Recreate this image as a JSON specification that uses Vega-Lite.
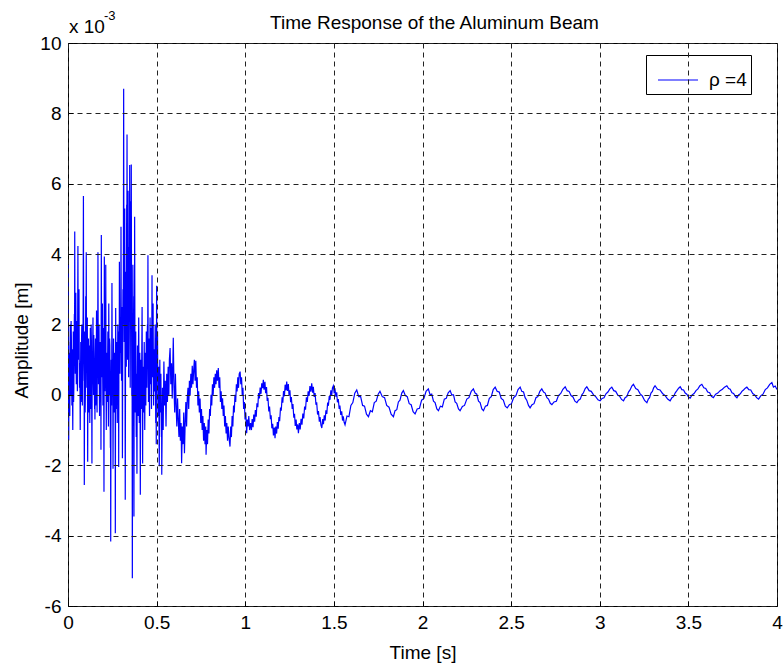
{
"$schema": "https://vega.github.io/schema/vega-lite/v6.json",
"width": 709,
"height": 563,
"autosize": "none",
"padding": {"left": 68, "top": 43, "right": 6, "bottom": 62},
"background": "white",
"config": {"view": {"stroke": "black", "strokeWidth": 1}, "font": "Liberation Sans"},
"title": {"text": "Time Response of the Aluminum Beam", "fontSize": 19, "fontWeight": "normal", "font": "Liberation Sans", "color": "black", "anchor": "middle", "frame": "group", "dx": 12, "baseline": "alphabetic", "offset": -38},
"layer": [
{
"data": {"values": [
{"t":0.000,"a":3.7},{"t":0.001,"a":0.8},{"t":0.002,"a":-0.2},{"t":0.003,"a":1.5},{"t":0.004,"a":-1.3},{"t":0.0055,"a":0.5},{"t":0.007,"a":1.2},{"t":0.0085,"a":-0.2},{"t":0.010,"a":-0.6},{"t":0.0115,"a":1.0},{"t":0.013,"a":2.0},{"t":0.0145,"a":0.0},{"t":0.016,"a":0.4},{"t":0.0175,"a":2.1},{"t":0.019,"a":1.6},{"t":0.0205,"a":0.5},{"t":0.022,"a":-0.3},{"t":0.0235,"a":1.3},{"t":0.025,"a":0.9},{"t":0.026,"a":-0.4},{"t":0.027,"a":-1.0},{"t":0.0285,"a":0.8},{"t":0.030,"a":1.8},{"t":0.0315,"a":-0.2},{"t":0.033,"a":0.2},{"t":0.0345,"a":1.4},{"t":0.036,"a":2.3},{"t":0.037,"a":1.0},{"t":0.038,"a":4.64},{"t":0.0395,"a":1.5},{"t":0.041,"a":0.6},{"t":0.0425,"a":1.6},{"t":0.044,"a":2.9},{"t":0.0455,"a":0.9},{"t":0.047,"a":0.3},{"t":0.0485,"a":1.7},{"t":0.050,"a":2.1},{"t":0.0515,"a":0.6},{"t":0.053,"a":0.1},{"t":0.0545,"a":2.0},{"t":0.056,"a":4.23},{"t":0.0575,"a":1.2},{"t":0.059,"a":1.0},{"t":0.0605,"a":2.2},{"t":0.062,"a":3.0},{"t":0.0635,"a":1.0},{"t":0.065,"a":0.2},{"t":0.067,"a":0.9},{"t":0.069,"a":-1.0},{"t":0.0705,"a":0.4},{"t":0.072,"a":1.5},{"t":0.0735,"a":-0.2},{"t":0.075,"a":0.5},{"t":0.0765,"a":1.6},{"t":0.078,"a":2.0},{"t":0.0795,"a":0.3},{"t":0.081,"a":-0.3},{"t":0.0825,"a":1.5},{"t":0.084,"a":1.2},{"t":0.0855,"a":2.5},{"t":0.087,"a":5.65},{"t":0.0885,"a":1.0},{"t":0.090,"a":0.4},{"t":0.091,"a":1.2},{"t":0.092,"a":-2.56},{"t":0.0935,"a":0.3},{"t":0.095,"a":1.8},{"t":0.0965,"a":-0.5},{"t":0.098,"a":0.0},{"t":0.099,"a":1.4},{"t":0.100,"a":2.8},{"t":0.1015,"a":0.8},{"t":0.103,"a":4.05},{"t":0.1045,"a":1.1},{"t":0.106,"a":0.2},{"t":0.1075,"a":1.4},{"t":0.109,"a":2.2},{"t":0.110,"a":0.4},{"t":0.111,"a":-1.9},{"t":0.1125,"a":0.9},{"t":0.114,"a":0.6},{"t":0.1155,"a":1.6},{"t":0.117,"a":-0.5},{"t":0.1185,"a":0.7},{"t":0.120,"a":1.4},{"t":0.1215,"a":0.2},{"t":0.123,"a":-0.8},{"t":0.1245,"a":0.9},{"t":0.126,"a":1.9},{"t":0.1275,"a":-0.4},{"t":0.129,"a":0.3},{"t":0.1305,"a":2.0},{"t":0.132,"a":1.5},{"t":0.1335,"a":0.2},{"t":0.135,"a":-1.95},{"t":0.1365,"a":0.9},{"t":0.138,"a":0.4},{"t":0.1395,"a":1.5},{"t":0.141,"a":2.2},{"t":0.1425,"a":0.5},{"t":0.144,"a":0.0},{"t":0.1455,"a":1.7},{"t":0.147,"a":1.1},{"t":0.1485,"a":0.2},{"t":0.150,"a":-0.4},{"t":0.151,"a":0.5},{"t":0.152,"a":-0.7},{"t":0.1535,"a":0.8},{"t":0.155,"a":1.6},{"t":0.1565,"a":-0.3},{"t":0.158,"a":0.2},{"t":0.1595,"a":1.0},{"t":0.161,"a":2.4},{"t":0.1625,"a":0.4},{"t":0.164,"a":-0.5},{"t":0.1655,"a":1.4},{"t":0.167,"a":1.0},{"t":0.168,"a":2.0},{"t":0.169,"a":4.05},{"t":0.1705,"a":1.2},{"t":0.172,"a":0.3},{"t":0.1735,"a":1.6},{"t":0.175,"a":2.0},{"t":0.1765,"a":0.5},{"t":0.178,"a":-0.6},{"t":0.1795,"a":0.6},{"t":0.181,"a":1.5},{"t":0.1825,"a":-0.2},{"t":0.184,"a":0.2},{"t":0.185,"a":0.9},{"t":0.186,"a":-1.56},{"t":0.187,"a":1.5},{"t":0.188,"a":4.54},{"t":0.1895,"a":1.0},{"t":0.191,"a":0.5},{"t":0.1925,"a":1.5},{"t":0.194,"a":2.6},{"t":0.1955,"a":0.7},{"t":0.197,"a":-0.3},{"t":0.1985,"a":1.2},{"t":0.200,"a":1.9},{"t":0.2015,"a":0.2},{"t":0.203,"a":-2.75},{"t":0.204,"a":0.8},{"t":0.205,"a":3.93},{"t":0.2065,"a":1.3},{"t":0.208,"a":0.1},{"t":0.2095,"a":1.4},{"t":0.211,"a":2.3},{"t":0.212,"a":1.1},{"t":0.213,"a":3.7},{"t":0.2145,"a":0.8},{"t":0.216,"a":-1.0},{"t":0.2175,"a":0.6},{"t":0.219,"a":1.2},{"t":0.2205,"a":0.4},{"t":0.222,"a":-0.2},{"t":0.2235,"a":1.0},{"t":0.225,"a":1.8},{"t":0.2265,"a":0.3},{"t":0.228,"a":-0.9},{"t":0.229,"a":0.7},{"t":0.230,"a":2.6},{"t":0.2315,"a":0.8},{"t":0.233,"a":0.0},{"t":0.2345,"a":1.6},{"t":0.236,"a":1.4},{"t":0.2375,"a":0.1},{"t":0.239,"a":-1.5},{"t":0.240,"a":0.3},{"t":0.241,"a":-4.17},{"t":0.2425,"a":-0.5},{"t":0.244,"a":1.0},{"t":0.245,"a":0.2},{"t":0.246,"a":-0.3},{"t":0.247,"a":1.2},{"t":0.248,"a":3.18},{"t":0.2495,"a":0.9},{"t":0.251,"a":0.2},{"t":0.2525,"a":1.0},{"t":0.254,"a":-2.1},{"t":0.2555,"a":0.2},{"t":0.257,"a":1.6},{"t":0.2585,"a":0.3},{"t":0.260,"a":-0.5},{"t":0.2615,"a":0.7},{"t":0.263,"a":1.2},{"t":0.264,"a":0.0},{"t":0.265,"a":0.1},{"t":0.266,"a":0.9},{"t":0.267,"a":-3.93},{"t":0.268,"a":-0.6},{"t":0.269,"a":2.47},{"t":0.2705,"a":0.8},{"t":0.272,"a":-0.4},{"t":0.2735,"a":1.1},{"t":0.275,"a":1.5},{"t":0.2765,"a":0.2},{"t":0.278,"a":-0.8},{"t":0.2795,"a":0.6},{"t":0.281,"a":2.0},{"t":0.2825,"a":1.0},{"t":0.284,"a":0.3},{"t":0.285,"a":1.2},{"t":0.286,"a":-2.05},{"t":0.287,"a":0.4},{"t":0.288,"a":1.8},{"t":0.289,"a":0.9},{"t":0.290,"a":3.78},{"t":0.2915,"a":1.4},{"t":0.293,"a":0.6},{"t":0.2945,"a":1.9},{"t":0.296,"a":2.2},{"t":0.2975,"a":1.2},{"t":0.299,"a":4.78},{"t":0.3005,"a":1.6},{"t":0.302,"a":0.4},{"t":0.3035,"a":1.8},{"t":0.305,"a":2.5},{"t":0.306,"a":0.5},{"t":0.307,"a":-1.8},{"t":0.3085,"a":1.0},{"t":0.310,"a":3.0},{"t":0.312,"a":2.0},{"t":0.314,"a":8.7},{"t":0.3155,"a":3.5},{"t":0.317,"a":1.5},{"t":0.3185,"a":3.0},{"t":0.320,"a":5.3},{"t":0.3215,"a":1.5},{"t":0.323,"a":-2.98},{"t":0.3245,"a":0.8},{"t":0.326,"a":3.5},{"t":0.3275,"a":2.2},{"t":0.329,"a":0.8},{"t":0.330,"a":3.0},{"t":0.331,"a":5.4},{"t":0.332,"a":3.8},{"t":0.333,"a":7.4},{"t":0.3345,"a":3.6},{"t":0.336,"a":1.0},{"t":0.3375,"a":3.2},{"t":0.339,"a":5.8},{"t":0.3405,"a":2.6},{"t":0.342,"a":0.5},{"t":0.3435,"a":2.8},{"t":0.345,"a":4.2},{"t":0.3465,"a":2.5},{"t":0.348,"a":6.53},{"t":0.3495,"a":2.8},{"t":0.351,"a":0.2},{"t":0.3525,"a":3.0},{"t":0.354,"a":5.5},{"t":0.3555,"a":3.2},{"t":0.357,"a":6.55},{"t":0.3585,"a":2.5},{"t":0.360,"a":0.0},{"t":0.3615,"a":1.8},{"t":0.363,"a":-5.21},{"t":0.3645,"a":-0.5},{"t":0.366,"a":3.7},{"t":0.3675,"a":1.8},{"t":0.369,"a":0.5},{"t":0.3705,"a":1.9},{"t":0.372,"a":-3.46},{"t":0.373,"a":-0.4},{"t":0.374,"a":2.8},{"t":0.375,"a":1.5},{"t":0.376,"a":5.06},{"t":0.3775,"a":1.6},{"t":0.379,"a":-0.5},{"t":0.3805,"a":0.9},{"t":0.382,"a":1.8},{"t":0.3835,"a":0.2},{"t":0.385,"a":-1.2},{"t":0.387,"a":0.6},{"t":0.389,"a":-2.24},{"t":0.3905,"a":0.2},{"t":0.392,"a":1.4},{"t":0.3935,"a":0.3},{"t":0.395,"a":-0.6},{"t":0.397,"a":1.0},{"t":0.399,"a":2.2},{"t":0.4005,"a":0.5},{"t":0.402,"a":-0.8},{"t":0.4035,"a":0.4},{"t":0.405,"a":1.2},{"t":0.4065,"a":0.0},{"t":0.408,"a":-2.84},{"t":0.4095,"a":-0.2},{"t":0.411,"a":1.0},{"t":0.4125,"a":0.0},{"t":0.414,"a":-0.4},{"t":0.416,"a":1.0},{"t":0.418,"a":2.5},{"t":0.4195,"a":0.3},{"t":0.421,"a":-1.95},{"t":0.4225,"a":0.2},{"t":0.424,"a":0.8},{"t":0.4255,"a":-0.2},{"t":0.427,"a":-0.5},{"t":0.4285,"a":0.6},{"t":0.430,"a":1.5},{"t":0.4315,"a":0.2},{"t":0.433,"a":-1.0},{"t":0.4345,"a":0.4},{"t":0.436,"a":1.2},{"t":0.4375,"a":-0.2},{"t":0.439,"a":-0.3},{"t":0.4405,"a":0.9},{"t":0.442,"a":1.8},{"t":0.4435,"a":0.6},{"t":0.445,"a":0.2},{"t":0.4465,"a":1.3},{"t":0.448,"a":2.0},{"t":0.4495,"a":1.1},{"t":0.451,"a":3.97},{"t":0.4525,"a":0.8},{"t":0.454,"a":-0.2},{"t":0.4555,"a":0.9},{"t":0.457,"a":1.6},{"t":0.4585,"a":0.2},{"t":0.460,"a":-0.6},{"t":0.4615,"a":1.0},{"t":0.463,"a":2.2},{"t":0.4645,"a":0.6},{"t":0.466,"a":0.3},{"t":0.4675,"a":1.2},{"t":0.469,"a":1.9},{"t":0.470,"a":0.6},{"t":0.471,"a":-0.4},{"t":0.4725,"a":1.3},{"t":0.474,"a":3.4},{"t":0.4755,"a":1.0},{"t":0.477,"a":0.5},{"t":0.4785,"a":1.5},{"t":0.480,"a":2.6},{"t":0.4815,"a":0.8},{"t":0.483,"a":-0.3},{"t":0.4845,"a":0.6},{"t":0.486,"a":1.3},{"t":0.4875,"a":0.2},{"t":0.489,"a":0.1},{"t":0.4905,"a":1.2},{"t":0.492,"a":2.0},{"t":0.4935,"a":0.4},{"t":0.495,"a":-0.8},{"t":0.4965,"a":0.3},{"t":0.498,"a":-1.4},{"t":0.499,"a":1.0},{"t":0.500,"a":3.1},{"t":0.501,"a":1.2},{"t":0.502,"a":0.4},{"t":0.5035,"a":1.0},{"t":0.505,"a":1.8},{"t":0.5065,"a":0.2},{"t":0.508,"a":-0.6},{"t":0.5095,"a":0.3},{"t":0.511,"a":0.8},{"t":0.513,"a":-0.5},{"t":0.515,"a":-2.03},{"t":0.5165,"a":-0.2},{"t":0.518,"a":1.0},{"t":0.5195,"a":0.0},{"t":0.521,"a":-0.5},{"t":0.5225,"a":0.4},{"t":0.524,"a":0.6},{"t":0.5255,"a":-0.3},{"t":0.527,"a":-1.2},{"t":0.528,"a":-0.4},{"t":0.529,"a":-2.27},
{"t":0.533,"a":0.2},{"t":0.537,"a":-1.0},{"t":0.541,"a":0.95},{"t":0.545,"a":-0.3},{"t":0.549,"a":0.4},{"t":0.553,"a":-0.9},{"t":0.557,"a":0.6},{"t":0.561,"a":-0.2},{"t":0.565,"a":0.8},{"t":0.569,"a":0.0},{"t":0.572,"a":1.0},{"t":0.576,"a":1.33},{"t":0.580,"a":0.3},{"t":0.584,"a":0.9},{"t":0.588,"a":-0.1},{"t":0.591,"a":0.7},{"t":0.594,"a":1.62},{"t":0.598,"a":0.2},{"t":0.602,"a":-0.5},{"t":0.606,"a":0.6},{"t":0.610,"a":-0.3},{"t":0.614,"a":-0.9},{"t":0.618,"a":-0.1},{"t":0.622,"a":-0.7},{"t":0.626,"a":-1.2},{"t":0.630,"a":-0.4},{"t":0.634,"a":-1.3},{"t":0.638,"a":-0.8},{"t":0.641,"a":-1.94},{"t":0.645,"a":-0.9},{"t":0.649,"a":-1.4},{"t":0.653,"a":-0.5},{"t":0.657,"a":-1.66},{"t":0.661,"a":-0.8},{"t":0.665,"a":-0.2},{"t":0.669,"a":-0.9},{"t":0.673,"a":-0.1},{"t":0.677,"a":0.2},{"t":0.681,"a":-0.4},{"t":0.685,"a":0.4},{"t":0.689,"a":0.0},{"t":0.693,"a":0.6},{"t":0.697,"a":0.2},{"t":0.701,"a":0.83},{"t":0.705,"a":0.3},{"t":0.709,"a":0.7},{"t":0.713,"a":1.0},{"t":0.717,"a":0.4},{"t":0.721,"a":0.97},{"t":0.725,"a":0.2},{"t":0.729,"a":0.5},{"t":0.733,"a":-0.3},{"t":0.737,"a":0.1},{"t":0.741,"a":-0.5},{"t":0.745,"a":-0.1},{"t":0.749,"a":-0.8},{"t":0.753,"a":-0.4},{"t":0.757,"a":-1.0},{"t":0.761,"a":-0.6},{"t":0.765,"a":-1.3},{"t":0.769,"a":-0.8},{"t":0.773,"a":-1.4},{"t":0.777,"a":-0.9},{"t":0.779,"a":-1.7},{"t":0.783,"a":-1.0},{"t":0.787,"a":-1.4},{"t":0.791,"a":-0.7},{"t":0.795,"a":-1.1},{"t":0.799,"a":-0.4},{"t":0.803,"a":-0.6},{"t":0.807,"a":0.0},{"t":0.811,"a":-0.3},{"t":0.815,"a":0.3},{"t":0.819,"a":0.0},{"t":0.823,"a":0.5},{"t":0.827,"a":0.2},{"t":0.831,"a":0.6},{"t":0.835,"a":0.3},{"t":0.839,"a":0.7},{"t":0.843,"a":0.4},{"t":0.848,"a":0.76},{"t":0.852,"a":0.2},{"t":0.856,"a":0.5},{"t":0.860,"a":-0.2},{"t":0.864,"a":0.1},{"t":0.868,"a":-0.4},{"t":0.872,"a":-0.1},{"t":0.876,"a":-0.6},{"t":0.880,"a":-0.3},{"t":0.884,"a":-0.9},{"t":0.888,"a":-0.6},{"t":0.892,"a":-1.1},{"t":0.896,"a":-0.8},{"t":0.900,"a":-1.3},{"t":0.904,"a":-0.9},{"t":0.908,"a":-1.2},{"t":0.914,"a":-1.47},{"t":0.918,"a":-0.9},{"t":0.922,"a":-1.2},{"t":0.926,"a":-0.6},{"t":0.930,"a":-0.9},{"t":0.934,"a":-0.3},{"t":0.938,"a":-0.5},{"t":0.942,"a":0.0},{"t":0.946,"a":-0.2},{"t":0.950,"a":0.3},{"t":0.954,"a":0.1},{"t":0.958,"a":0.5},{"t":0.962,"a":0.2},{"t":0.966,"a":0.6},{"t":0.971,"a":0.66},{"t":0.975,"a":0.3},{"t":0.979,"a":0.5},{"t":0.983,"a":0.0},{"t":0.987,"a":0.2},{"t":0.991,"a":-0.4},{"t":0.995,"a":-0.2},{"t":0.999,"a":-0.7},{"t":1.003,"a":-0.5},{"t":1.008,"a":-1.09},{"t":1.012,"a":-0.7},{"t":1.016,"a":-0.9},{"t":1.020,"a":-0.6},{"t":1.025,"a":-1.0},{"t":1.030,"a":-0.8},{"t":1.035,"a":-1.0},
{"t":1.039,"a":-0.69},{"t":1.044,"a":-0.92},{"t":1.048,"a":-0.56},{"t":1.053,"a":-0.76},{"t":1.057,"a":-0.43},{"t":1.062,"a":-0.62},{"t":1.066,"a":-0.24},{"t":1.071,"a":-0.35},{"t":1.075,"a":0.05},{"t":1.080,"a":-0.10},{"t":1.084,"a":0.21},{"t":1.089,"a":0.03},{"t":1.093,"a":0.33},{"t":1.098,"a":0.19},{"t":1.102,"a":0.43},
{"t":1.106,"a":0.15},{"t":1.111,"a":0.37},{"t":1.115,"a":0.05},{"t":1.120,"a":0.22},{"t":1.124,"a":-0.17},{"t":1.128,"a":-0.08},{"t":1.133,"a":-0.47},{"t":1.137,"a":-0.33},{"t":1.142,"a":-0.69},{"t":1.146,"a":-0.58},{"t":1.150,"a":-0.95},{"t":1.155,"a":-0.82},{"t":1.159,"a":-1.15},{"t":1.164,"a":-0.93},{"t":1.168,"a":-1.23},
{"t":1.172,"a":-0.90},{"t":1.177,"a":-1.10},{"t":1.181,"a":-0.77},{"t":1.186,"a":-0.96},{"t":1.190,"a":-0.63},{"t":1.194,"a":-0.75},{"t":1.199,"a":-0.36},{"t":1.203,"a":-0.45},{"t":1.208,"a":-0.07},{"t":1.212,"a":-0.22},{"t":1.216,"a":0.11},{"t":1.221,"a":-0.04},{"t":1.225,"a":0.29},{"t":1.230,"a":0.13},{"t":1.234,"a":0.38},
{"t":1.238,"a":0.11},{"t":1.243,"a":0.31},{"t":1.247,"a":-0.01},{"t":1.252,"a":0.13},{"t":1.256,"a":-0.21},{"t":1.260,"a":-0.06},{"t":1.265,"a":-0.40},{"t":1.269,"a":-0.26},{"t":1.274,"a":-0.65},{"t":1.278,"a":-0.54},{"t":1.282,"a":-0.88},{"t":1.287,"a":-0.70},{"t":1.291,"a":-0.98},{"t":1.296,"a":-0.84},{"t":1.300,"a":-1.09},
{"t":1.305,"a":-0.80},{"t":1.310,"a":-0.98},{"t":1.315,"a":-0.68},{"t":1.320,"a":-0.85},{"t":1.325,"a":-0.53},{"t":1.330,"a":-0.67},{"t":1.335,"a":-0.33},{"t":1.340,"a":-0.42},{"t":1.345,"a":-0.07},{"t":1.350,"a":-0.20},{"t":1.355,"a":0.10},{"t":1.360,"a":-0.03},{"t":1.365,"a":0.25},{"t":1.370,"a":0.09},{"t":1.375,"a":0.33},
{"t":1.380,"a":0.06},{"t":1.384,"a":0.23},{"t":1.389,"a":-0.06},{"t":1.394,"a":0.05},{"t":1.399,"a":-0.28},{"t":1.403,"a":-0.21},{"t":1.408,"a":-0.56},{"t":1.413,"a":-0.46},{"t":1.418,"a":-0.76},{"t":1.422,"a":-0.63},{"t":1.427,"a":-0.86},{"t":1.432,"a":-0.94},
{"t":1.437,"a":-0.69},{"t":1.441,"a":-0.83},{"t":1.446,"a":-0.58},{"t":1.451,"a":-0.73},{"t":1.455,"a":-0.44},{"t":1.460,"a":-0.54},{"t":1.465,"a":-0.22},{"t":1.469,"a":-0.31},{"t":1.474,"a":-0.03},{"t":1.478,"a":-0.14},{"t":1.483,"a":0.13},{"t":1.488,"a":0.00},{"t":1.492,"a":0.20},{"t":1.497,"a":0.26},
{"t":1.502,"a":0.04},{"t":1.506,"a":0.19},{"t":1.511,"a":-0.05},{"t":1.516,"a":0.07},{"t":1.520,"a":-0.21},{"t":1.525,"a":-0.12},{"t":1.530,"a":-0.40},{"t":1.534,"a":-0.30},{"t":1.539,"a":-0.57},{"t":1.544,"a":-0.47},{"t":1.549,"a":-0.73},{"t":1.553,"a":-0.61},{"t":1.558,"a":-0.78},{"t":1.563,"a":-0.85},
{"t":1.574,"a":-0.60},{"t":1.585,"a":-0.62},{"t":1.596,"a":-0.30},{"t":1.607,"a":-0.22},{"t":1.618,"a":0.05},{"t":1.629,"a":0.14},
{"t":1.640,"a":-0.05},{"t":1.651,"a":-0.05},{"t":1.662,"a":-0.30},{"t":1.673,"a":-0.32},{"t":1.684,"a":-0.55},{"t":1.695,"a":-0.62},
{"t":1.706,"a":-0.45},{"t":1.717,"a":-0.48},{"t":1.728,"a":-0.22},{"t":1.739,"a":-0.18},{"t":1.750,"a":0.02},{"t":1.760,"a":0.10},
{"t":1.773,"a":-0.05},{"t":1.786,"a":-0.08},{"t":1.798,"a":-0.30},{"t":1.811,"a":-0.35},{"t":1.823,"a":-0.55},{"t":1.836,"a":-0.62},
{"t":1.845,"a":-0.45},{"t":1.855,"a":-0.42},{"t":1.864,"a":-0.20},{"t":1.873,"a":-0.15},{"t":1.883,"a":0.05},{"t":1.892,"a":0.12},
{"t":1.903,"a":-0.02},{"t":1.914,"a":-0.05},{"t":1.925,"a":-0.25},{"t":1.936,"a":-0.28},{"t":1.947,"a":-0.48},{"t":1.958,"a":-0.54},
{"t":1.970,"a":-0.40},{"t":1.983,"a":-0.38},{"t":1.995,"a":-0.15},{"t":2.008,"a":-0.10},{"t":2.020,"a":0.10},{"t":2.033,"a":0.17},
{"t":2.043,"a":0.00},{"t":2.052,"a":0.02},{"t":2.062,"a":-0.18},{"t":2.071,"a":-0.22},{"t":2.081,"a":-0.40},{"t":2.090,"a":-0.45},
{"t":2.101,"a":-0.32},{"t":2.112,"a":-0.34},{"t":2.123,"a":-0.12},{"t":2.134,"a":-0.10},{"t":2.145,"a":0.06},{"t":2.156,"a":0.12},
{"t":2.165,"a":0.00},{"t":2.175,"a":0.00},{"t":2.184,"a":-0.20},{"t":2.193,"a":-0.24},{"t":2.203,"a":-0.40},{"t":2.212,"a":-0.45},
{"t":2.225,"a":-0.33},{"t":2.237,"a":-0.30},{"t":2.250,"a":-0.12},{"t":2.262,"a":-0.08},{"t":2.275,"a":0.10},{"t":2.287,"a":0.17},
{"t":2.297,"a":0.05},{"t":2.306,"a":0.02},{"t":2.316,"a":-0.18},{"t":2.325,"a":-0.22},{"t":2.335,"a":-0.40},{"t":2.344,"a":-0.45},
{"t":2.355,"a":-0.32},{"t":2.366,"a":-0.30},{"t":2.377,"a":-0.10},{"t":2.388,"a":-0.05},{"t":2.399,"a":0.15},{"t":2.410,"a":0.22},
{"t":2.421,"a":0.10},{"t":2.433,"a":0.08},{"t":2.444,"a":-0.10},{"t":2.456,"a":-0.15},{"t":2.467,"a":-0.32},{"t":2.478,"a":-0.37},
{"t":2.490,"a":-0.28},{"t":2.502,"a":-0.25},{"t":2.514,"a":-0.08},{"t":2.527,"a":-0.02},{"t":2.539,"a":0.15},{"t":2.551,"a":0.22},
{"t":2.560,"a":0.10},{"t":2.570,"a":0.08},{"t":2.579,"a":-0.08},{"t":2.588,"a":-0.15},{"t":2.598,"a":-0.30},{"t":2.607,"a":-0.37},
{"t":2.618,"a":-0.28},{"t":2.629,"a":-0.25},{"t":2.640,"a":-0.08},{"t":2.651,"a":-0.05},{"t":2.662,"a":0.10},{"t":2.673,"a":0.17},
{"t":2.683,"a":0.08},{"t":2.692,"a":0.05},{"t":2.702,"a":-0.08},{"t":2.711,"a":-0.12},{"t":2.721,"a":-0.24},{"t":2.730,"a":-0.28},
{"t":2.742,"a":-0.20},{"t":2.755,"a":-0.18},{"t":2.767,"a":-0.02},{"t":2.780,"a":0.04},{"t":2.792,"a":0.16},{"t":2.805,"a":0.23},
{"t":2.816,"a":0.12},{"t":2.827,"a":0.10},{"t":2.838,"a":-0.02},{"t":2.849,"a":-0.06},{"t":2.860,"a":-0.18},{"t":2.871,"a":-0.22},
{"t":2.880,"a":-0.15},{"t":2.890,"a":-0.12},{"t":2.899,"a":0.00},{"t":2.908,"a":0.06},{"t":2.918,"a":0.18},{"t":2.927,"a":0.23},
{"t":2.940,"a":0.12},{"t":2.952,"a":0.10},{"t":2.965,"a":0.00},{"t":2.977,"a":-0.05},{"t":2.990,"a":-0.14},{"t":3.002,"a":-0.17},
{"t":3.013,"a":-0.10},{"t":3.024,"a":-0.08},{"t":3.035,"a":0.03},{"t":3.046,"a":0.08},{"t":3.057,"a":0.17},{"t":3.068,"a":0.22},
{"t":3.079,"a":0.12},{"t":3.090,"a":0.10},{"t":3.101,"a":0.00},{"t":3.112,"a":-0.04},{"t":3.123,"a":-0.13},{"t":3.134,"a":-0.17},
{"t":3.143,"a":-0.08},{"t":3.153,"a":-0.05},{"t":3.162,"a":0.08},{"t":3.171,"a":0.14},{"t":3.181,"a":0.25},{"t":3.190,"a":0.30},
{"t":3.203,"a":0.18},{"t":3.215,"a":0.15},{"t":3.228,"a":0.03},{"t":3.240,"a":-0.03},{"t":3.253,"a":-0.16},{"t":3.266,"a":-0.22},
{"t":3.274,"a":-0.12},{"t":3.281,"a":-0.08},{"t":3.289,"a":0.05},{"t":3.297,"a":0.10},{"t":3.304,"a":0.20},{"t":3.312,"a":0.26},
{"t":3.326,"a":0.16},{"t":3.340,"a":0.14},{"t":3.354,"a":0.04},{"t":3.369,"a":-0.02},{"t":3.383,"a":-0.12},{"t":3.397,"a":-0.17},
{"t":3.407,"a":-0.08},{"t":3.416,"a":-0.05},{"t":3.426,"a":0.06},{"t":3.435,"a":0.12},{"t":3.445,"a":0.19},{"t":3.454,"a":0.23},
{"t":3.463,"a":0.15},{"t":3.473,"a":0.14},{"t":3.482,"a":0.05},{"t":3.491,"a":0.02},{"t":3.501,"a":-0.06},{"t":3.510,"a":-0.09},
{"t":3.521,"a":0.00},{"t":3.532,"a":0.04},{"t":3.543,"a":0.12},{"t":3.554,"a":0.17},{"t":3.565,"a":0.26},{"t":3.576,"a":0.30},
{"t":3.587,"a":0.20},{"t":3.598,"a":0.18},{"t":3.609,"a":0.08},{"t":3.620,"a":0.06},{"t":3.630,"a":-0.04},{"t":3.641,"a":-0.08},
{"t":3.654,"a":0.02},{"t":3.666,"a":0.05},{"t":3.679,"a":0.12},{"t":3.692,"a":0.16},{"t":3.704,"a":0.22},{"t":3.717,"a":0.26},
{"t":3.727,"a":0.18},{"t":3.736,"a":0.16},{"t":3.746,"a":0.06},{"t":3.755,"a":0.04},{"t":3.765,"a":-0.04},{"t":3.774,"a":-0.08},
{"t":3.783,"a":0.00},{"t":3.793,"a":0.03},{"t":3.802,"a":0.10},{"t":3.811,"a":0.14},{"t":3.821,"a":0.19},{"t":3.830,"a":0.22},
{"t":3.841,"a":0.15},{"t":3.852,"a":0.14},{"t":3.863,"a":0.04},{"t":3.874,"a":0.00},{"t":3.885,"a":-0.08},{"t":3.896,"a":-0.12},
{"t":3.909,"a":-0.02},{"t":3.921,"a":0.02},{"t":3.934,"a":0.15},{"t":3.946,"a":0.20},{"t":3.959,"a":0.30},{"t":3.971,"a":0.35},
{"t":3.980,"a":0.22},{"t":3.990,"a":0.25},{"t":4.000,"a":0.15}
]},
"mark": {"type": "line", "strokeWidth": 1.2, "clip": true},
"encoding": {
"x": {"field": "t", "type": "quantitative", "scale": {"domain": [0, 4], "nice": false, "zero": false},
 "axis": {"values": [0, 0.5, 1, 1.5, 2, 2.5, 3, 3.5, 4], "format": "~g", "title": "Time [s]", "grid": true, "gridDash": [5, 4], "gridColor": "#222222", "gridOpacity": 1, "tickSize": -5, "tickColor": "#000000", "domain": false, "labelFlush": false, "labelOverlap": false, "labelFontSize": 19, "labelFont": "Liberation Sans", "labelColor": "#000000", "labelPadding": 12, "titleFontSize": 19, "titleFont": "Liberation Sans", "titleFontWeight": "normal", "titleColor": "#000000", "titlePadding": 11, "zindex": 1}},
"y": {"field": "a", "type": "quantitative", "scale": {"domain": [-6, 10], "nice": false, "zero": false},
 "axis": {"values": [-6, -4, -2, 0, 2, 4, 6, 8, 10], "labelExpr": "'' + datum.value", "title": "Amplitude [m]", "grid": true, "gridDash": [5, 4], "gridColor": "#222222", "gridOpacity": 1, "tickSize": -5, "tickColor": "#000000", "domain": false, "labelFlush": false, "labelOverlap": false, "labelFontSize": 19, "labelFont": "Liberation Sans", "labelColor": "#000000", "labelPadding": 12, "titleFontSize": 19, "titleFont": "Liberation Sans", "titleFontWeight": "normal", "titleColor": "#000000", "titleX": -47, "titleY": 297, "titleBaseline": "middle", "titleAlign": "center", "zindex": 1}},
"color": {"datum": "ρ =4", "type": "nominal", "scale": {"range": ["#0000ff"]},
 "legend": {"title": null, "orient": "none", "legendX": 578, "legendY": 12, "symbolType": "stroke", "symbolSize": 1600, "symbolStrokeWidth": 1.2, "symbolOffset": 7, "labelFontSize": 19, "labelFont": "Liberation Sans", "labelColor": "#000000", "labelOffset": 10, "strokeColor": "#000000", "fillColor": "#ffffff", "padding": 4, "cornerRadius": 0}}
}
},
{
"data": {"values": [{}]},
"mark": {"type": "text", "align": "left", "baseline": "middle", "fontSize": 19, "font": "Liberation Sans", "color": "#000000", "dx": 1, "dy": -16},
"encoding": {"x": {"datum": 0, "type": "quantitative"}, "y": {"datum": 10, "type": "quantitative"}, "text": {"value": "x 10"}}
},
{
"data": {"values": [{}]},
"mark": {"type": "text", "align": "left", "baseline": "middle", "fontSize": 13, "font": "Liberation Sans", "color": "#000000", "dx": 36, "dy": -27},
"encoding": {"x": {"datum": 0, "type": "quantitative"}, "y": {"datum": 10, "type": "quantitative"}, "text": {"value": "-3"}}
}
]
}
